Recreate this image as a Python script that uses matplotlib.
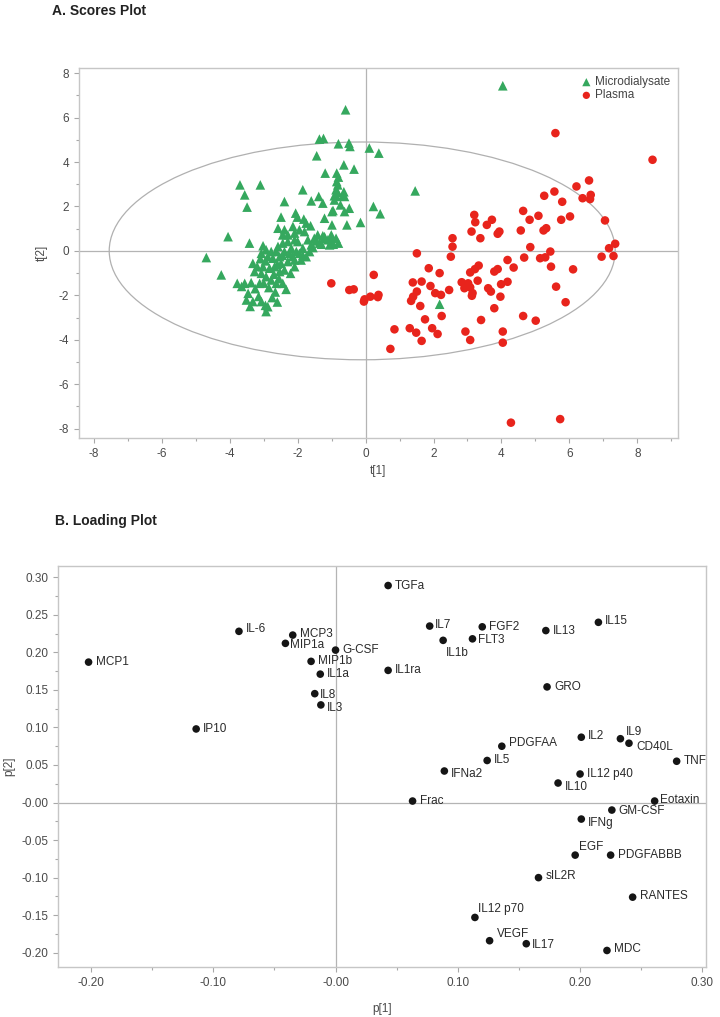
import numpy as np
import matplotlib
matplotlib.use("Agg")
import matplotlib.pyplot as plt
from matplotlib.patches import Ellipse
from matplotlib.ticker import MultipleLocator, FixedLocator, FixedFormatter

plt.rcParams['font.family'] = ['Liberation Sans', 'DejaVu Sans']
plt.rcParams['axes.unicode_minus'] = False

# ---------------- data: A. scores ----------------
micro_t1 = [-0.59, -1.36, -1.24, -0.80, -0.49, -0.46, -1.44, -0.64, -0.34, -1.19, -0.85, -0.80,
            -0.85, -0.82, -0.87, -0.82, -0.85, -0.64, -0.62, -1.85, -3.70, -3.10, -3.56, -3.49,
            -2.39, -1.60, -1.38, -1.26, -0.96, -0.74, -0.48, -0.62, -1.21, -0.99, -0.55, -0.15,
            -2.06, -2.01, -2.49, -1.82, -1.75, -1.62, -2.58, -2.39, -2.14, -1.95, -1.80, -4.05,
            -3.42, -4.69, -4.25, -1.41, -1.26, -1.11, -0.87, -1.36, -1.60, -1.70, -3.02, -2.93,
            -2.78, -3.07, -2.58, -2.44, -2.29, -2.09,
            -3.78, -3.56, -3.37, -3.12, -3.46, -3.51, -3.32, -3.07, -2.93, -2.88, -2.66, -2.34,
            -2.44, -2.21, -2.63, -2.78, -2.93, -3.19, -3.32, -3.27, -3.07, -3.02, -2.83, -2.68,
            -2.53, -2.49, -2.29, -2.09, -1.95, -1.85, -2.19, -2.39, -2.53, -2.73, -2.88, -2.09,
            -2.39, -2.00, -1.65, -1.75, -1.90, -2.24, -2.04, -2.63, -2.29, -2.09, -2.44, -1.51,
            -1.01, -0.92, -0.92, -0.66, -0.99, -1.21, -1.06,
            -1.45, -1.30, -1.20, -1.00, -0.95, -0.80, -1.55, -1.85, -2.15, -2.45, -2.60, -2.95,
            -3.10, -2.70, -2.55, -3.00, -2.85, -3.25, -3.65, -3.15, -2.75, -2.95, -3.40, -2.60,
            0.11, 0.39, 0.23, 0.43, 1.46, 4.04, 2.18]
micro_t2 = [6.35, 5.03, 5.06, 4.82, 4.85, 4.70, 4.28, 3.87, 3.68, 3.50, 3.50, 3.32,
            3.12, 2.97, 2.75, 2.63, 2.45, 2.66, 2.45, 2.75, 2.97, 2.97, 2.52, 1.97,
            2.22, 2.25, 2.45, 2.15, 1.82, 2.07, 1.92, 1.77, 1.47, 1.17, 1.17, 1.28,
            1.70, 1.52, 1.52, 1.43, 1.25, 1.13, 1.02, 0.95, 1.10, 0.95, 0.87, 0.64,
            0.35, -0.30, -1.08, 0.72, 0.68, 0.50, 0.57, 0.35, 0.27, 0.50, 0.23, 0.05,
            -0.03, -0.11, 0.20, 0.35, 0.42, 0.50,
            -1.46, -1.46, -1.43, -1.46, -1.91, -2.21, -2.28, -2.28, -2.73, -2.51, -1.85, -1.73,
            -1.46, -1.01, -1.46, -1.31, -1.16, -0.71, -0.56, -0.93, -1.01, -0.71, -0.78, -0.71,
            -0.93, -0.56, -0.48, -0.41, -0.11, 0.12, 0.12, -0.03, -0.26, -0.33, -0.26, -0.71,
            -0.86, 0.42, -0.03, -0.26, -0.41, -0.11, -0.03, -0.03, 0.72, 0.80, 0.72, 0.57,
            0.72, 2.48, 2.29, 2.48, 1.77, 0.64, 0.27,
            0.45, 0.30, 0.55, 0.45, 0.30, 0.35, 0.15, -0.20, -0.25, -0.20, -0.60, -0.45,
            -0.35, -1.05, -1.25, -1.45, -1.65, -1.70, -1.60, -2.05, -2.10, -2.45, -2.50, -2.30,
            4.63, 4.40, 2.00, 1.67, 2.70, 7.43, -2.40]

plasma_t1 = [5.59, 8.45, 6.58, 6.21, 5.56, 5.26, 6.39, 6.63, 6.61, 5.79, 4.64, 5.09, 6.02, 5.76,
             3.20, 3.23, 3.72, 3.57, 4.83, 7.05, 5.32, 5.24, 4.57, 3.12, 3.94, 3.89, 3.38, 2.56,
             2.56, 4.85, 7.35, 7.17,
             1.51, 0.24, -0.48, -0.35, -1.01, -0.05, -0.03, 0.14, 0.36, 0.38, 1.86, 2.18, 1.39,
             1.65, 1.91, 1.51, 1.40, 1.34, 1.61, 2.05, 2.22, 2.46, 1.75, 2.24, 0.85, 1.30, 1.49,
             1.96, 2.12, 1.65, 0.73, 2.51, 2.83, 2.96, 3.02, 3.08, 2.91, 3.15, 3.13, 3.30, 3.08,
             3.22, 3.33, 3.61, 3.69, 3.79, 3.89, 4.18, 4.36, 3.99, 4.18, 3.97, 3.79, 3.40, 2.94,
             3.08, 4.04, 4.04, 4.64, 5.01, 4.67, 5.14, 5.29, 5.44, 5.46, 5.61, 6.11, 5.89, 4.28,
             5.73, 6.95, 7.30]
plasma_t2 = [5.30, 4.10, 3.17, 2.90, 2.67, 2.48, 2.37, 2.52, 2.33, 2.21, 1.80, 1.58, 1.55, 1.40,
             1.62, 1.29, 1.40, 1.17, 1.40, 1.37, 1.02, 0.92, 0.92, 0.87, 0.87, 0.77, 0.57, 0.57,
             0.19, 0.17, 0.32, 0.12,
             -0.11, -1.08, -1.76, -1.73, -1.46, -2.28, -2.18, -2.06, -2.08, -1.98, -0.78, -1.00, -1.42,
             -1.38, -1.58, -1.83, -2.06, -2.25, -2.48, -1.90, -1.98, -1.76, -3.08, -2.93, -3.53, -3.48, -3.68,
             -3.48, -3.74, -4.05, -4.41, -0.26, -1.41, -1.53, -1.46, -1.64, -1.68, -1.90, -2.02, -1.34, -0.97,
             -0.82, -0.66, -1.68, -1.83, -0.93, -0.82, -0.41, -0.75, -1.50, -1.39, -2.06, -2.58, -3.11, -3.63,
             -4.01, -3.63, -4.13, -2.93, -3.14, -0.30, -0.33, -0.29, -0.03, -0.71, -1.61, -0.83, -2.31, -7.73,
             -7.57, -0.26, -0.23]

# ---------------- data: B. loadings ----------------
cytokines = ["IL-6", "MCP3", "MIP1a", "G-CSF", "MCP1", "MIP1b", "IL1a", "IL8", "IL3", "IP10",
             "TGFa", "IL7", "FGF2", "IL1b", "FLT3", "IL13", "IL15", "IL1ra", "GRO", "IL2",
             "IL9", "CD40L", "PDGFAA", "IL5", "TNF", "IFNa2", "IL12 p40", "IL10", "Frac",
             "Eotaxin", "GM-CSF", "IFNg", "EGF", "PDGFABBB", "sIL2R", "RANTES", "IL12 p70",
             "VEGF", "IL17", "MDC"]
p1 = [-0.079, -0.035, -0.041, 0.000, -0.202, -0.020, -0.0125, -0.017, -0.012, -0.114,
      0.043, 0.077, 0.120, 0.088, 0.112, 0.172, 0.215, 0.043, 0.173, 0.201,
      0.233, 0.240, 0.136, 0.124, 0.279, 0.089, 0.200, 0.182, 0.063,
      0.261, 0.226, 0.201, 0.196, 0.225, 0.166, 0.243, 0.114,
      0.126, 0.156, 0.222]
p2 = [0.228, 0.223, 0.212, 0.203, 0.187, 0.188, 0.171, 0.145, 0.130, 0.098,
      0.289, 0.235, 0.234, 0.216, 0.218, 0.229, 0.240, 0.176, 0.154, 0.087,
      0.085, 0.079, 0.075, 0.056, 0.055, 0.042, 0.038, 0.026, 0.002,
      0.002, -0.010, -0.022, -0.070, -0.070, -0.100, -0.126, -0.153,
      -0.184, -0.188, -0.197]

# label offsets in points (default: to the right of the dot)
label_offset = {"IL-6": (5, 2), "MCP3": (5, 1), "MIP1a": (3, -1), "IL8": (4, -1), "IL3": (4, -2),
                "IL7": (4, 1), "IL1b": (2, -9), "FLT3": (4, -1), "IL15": (5, 1), "IL2": (5, 1),
                "IL9": (4, 5), "CD40L": (5, -3), "PDGFAA": (5, 2), "IFNa2": (5, -2), "IL10": (5, -3),
                "Eotaxin": (4, 1), "GM-CSF": (5, -1), "IFNg": (5, -3), "EGF": (3, 6),
                "sIL2R": (5, 1), "RANTES": (5, 1), "IL12 p70": (2, 6), "VEGF": (5, 5),
                "IL17": (4, -1), "MDC": (5, 1)}

grid_col = '#b4b4b4'
tick_col = '#4a4a4a'

def style_axes(ax):
    for s in ax.spines.values():
        s.set_color('#c6c6c6')
        s.set_linewidth(1.0)
    ax.tick_params(which='both', direction='out', color='#a8a8a8', labelcolor=tick_col,
                   labelsize=8.5, width=0.8)
    ax.tick_params(which='major', length=3.5)
    ax.tick_params(which='minor', length=2)

fig = plt.figure(figsize=(7.2, 10.17), dpi=100)

# ---------------- A. Scores Plot ----------------
ax1 = fig.add_axes([79 / 720, 1 - 438 / 1017, 599 / 720, 370 / 1017])
ax1.axhline(0, color=grid_col, lw=0.9, zorder=1)
ax1.axvline(0, color=grid_col, lw=0.9, zorder=1)
ax1.add_patch(Ellipse((-0.1, 0), 2 * 7.45, 2 * 4.9, fill=False, ec='#b0b0b0', lw=0.9, zorder=1))
ax1.scatter(micro_t1, micro_t2, marker='^', s=48, color='#35a85e', edgecolors='none',
            zorder=3, label='Microdialysate')
ax1.scatter(plasma_t1, plasma_t2, marker='o', s=38, color='#e8241c', edgecolors='none',
            zorder=3, label='Plasma')
ax1.set_xlim(-8.44, 9.2)
ax1.set_ylim(-8.42, 8.23)
ax1.xaxis.set_major_locator(MultipleLocator(2))
ax1.xaxis.set_minor_locator(MultipleLocator(1))
ax1.yaxis.set_major_locator(MultipleLocator(2))
ax1.yaxis.set_minor_locator(MultipleLocator(1))
style_axes(ax1)
ax1.set_xlabel('t[1]', fontsize=8.5, color=tick_col, labelpad=4)
ax1.set_ylabel('t[2]', fontsize=8.5, color=tick_col, labelpad=8)
leg = ax1.legend(loc='upper right', frameon=False, fontsize=8.5, handletextpad=0.1,
                 borderaxespad=0.3, labelspacing=0.1, markerscale=0.85, handlelength=1.2)
for t in leg.get_texts():
    t.set_color('#444444')

# ---------------- B. Loading Plot ----------------
ax2 = fig.add_axes([58 / 720, 1 - 967 / 1017, 648 / 720, 401 / 1017])
ax2.axhline(0, color=grid_col, lw=0.9, zorder=1)
ax2.axvline(0, color=grid_col, lw=0.9, zorder=1)
ax2.scatter(p1, p2, s=30, color='#151515', edgecolors='none', zorder=3)
for name, x, y in zip(cytokines, p1, p2):
    dx, dy = label_offset.get(name, (5, 0))
    ax2.annotate(name, (x, y), xytext=(dx, dy), textcoords='offset points',
                 ha='left', va='center', fontsize=8.5, color='#2a2a2a', zorder=4)
ax2.set_xlim(-0.227, 0.303)
ax2.set_ylim(-0.219, 0.315)
xt = [-0.20, -0.10, 0.00, 0.10, 0.20, 0.30]
ax2.xaxis.set_major_locator(FixedLocator(xt))
ax2.xaxis.set_major_formatter(FixedFormatter(['-0.20', '-0.10', '-0.00', '0.10', '0.20', '0.30']))
ax2.xaxis.set_minor_locator(MultipleLocator(0.05))
yt = [-0.20, -0.15, -0.10, -0.05, 0.00, 0.05, 0.10, 0.15, 0.20, 0.25, 0.30]
ax2.yaxis.set_major_locator(FixedLocator(yt))
ax2.yaxis.set_major_formatter(FixedFormatter(['-0.20', '-0.15', '-0.10', '-0.05', '-0.00', '0.05',
                                              '0.10', '0.15', '0.20', '0.25', '0.30']))
ax2.yaxis.set_minor_locator(MultipleLocator(0.025))
style_axes(ax2)
ax2.set_xlabel('p[1]', fontsize=8.5, color=tick_col, labelpad=10)
ax2.set_ylabel('p[2]', fontsize=8.5, color=tick_col, labelpad=4)

# panel titles
title_font = ['Liberation Sans Narrow', 'Liberation Sans', 'DejaVu Sans']
fig.text(52 / 720, 1 - 11 / 1017, 'A. Scores Plot', fontsize=10, fontweight='bold',
         family=title_font, color='#222222', va='center', ha='left')
fig.text(55 / 720, 1 - 521 / 1017, 'B. Loading Plot', fontsize=10, fontweight='bold',
         family=title_font, color='#222222', va='center', ha='left')

fig.savefig('out.png', dpi=100)
